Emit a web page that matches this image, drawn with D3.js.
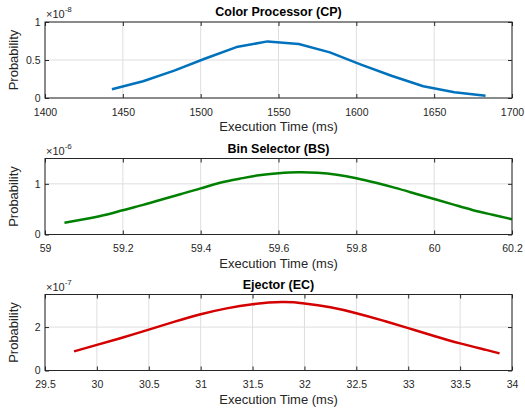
<!DOCTYPE html>
<html>
<head>
<meta charset="utf-8">
<script src="https://cdn.jsdelivr.net/npm/d3@7"></script>
<style>
body { margin: 0; background: #fff; }
text { font-family: "Liberation Sans", Arial, sans-serif; }
</style>
</head>
<body>
<div id="chart"></div>
<script>
// values
var cpTime = [1443, 1463, 1483, 1503, 1523, 1543, 1563, 1583, 1603, 1623, 1643, 1663, 1683];
var cpProb = [0.115, 0.22, 0.36, 0.52, 0.67, 0.745, 0.71, 0.60, 0.44, 0.29, 0.155, 0.075, 0.03];

var bsTime = [59.05, 59.1, 59.15, 59.2, 59.25, 59.3, 59.35, 59.4, 59.45, 59.5, 59.55, 59.6,
              59.65, 59.7, 59.75, 59.8, 59.85, 59.9, 59.95, 60.0, 60.05, 60.1, 60.15, 60.2];
var bsProb = [0.23, 0.30, 0.38, 0.48, 0.58, 0.69, 0.80, 0.91, 1.02, 1.10, 1.17, 1.21,
              1.23, 1.22, 1.18, 1.11, 1.02, 0.92, 0.81, 0.70, 0.59, 0.48, 0.39, 0.30];

var ecTime = [29.78, 30, 30.25, 30.5, 30.75, 31, 31.25, 31.5, 31.78, 32, 32.25, 32.5, 32.75, 33, 33.25, 33.5, 33.75, 33.88];
var ecProb = [0.88, 1.18, 1.52, 1.88, 2.25, 2.59, 2.86, 3.05, 3.15, 3.09, 2.91, 2.64, 2.31, 1.95, 1.59, 1.25, 0.95, 0.79];

var titles = ["Color Processor (CP)", "Bin Selector (BS)", "Ejector (EC)"];
var exponents = ["-8", "-6", "-7"];
var xDomains = [[1400, 1700], [59, 60.2], [29.5, 34]];
var yDomains = [[0, 1], [0, 1.5], [0, 3.5]];
var xTicks = [
  [1400, 1450, 1500, 1550, 1600, 1650, 1700],
  [59, 59.2, 59.4, 59.6, 59.8, 60, 60.2],
  [29.5, 30, 30.5, 31, 31.5, 32, 32.5, 33, 33.5, 34]
];
var yTicks = [[0, 0.5, 1], [0, 1], [0, 2]];
var colors = ["#0072bd", "#008000", "#d40000"];

var series = [
  {x: cpTime, y: cpProb, curve: d3.curveLinear},
  {x: bsTime, y: bsProb, curve: d3.curveNatural},
  {x: ecTime, y: ecProb, curve: d3.curveNatural}
];

var W = 525, H = 408;
var left = 45, right = 512, ph = 76;
var tops = [22, 158.5, 294.5];
var ink = "#262626";

var svg = d3.select("#chart").append("svg").attr("width", W).attr("height", H);

series.forEach(function(s, i) {
  var top = tops[i], bottom = top + ph;
  var x = d3.scaleLinear().domain(xDomains[i]).range([left, right]);
  var y = d3.scaleLinear().domain(yDomains[i]).range([bottom, top]);
  var g = svg.append("g");
  var fmt = d3.format("~g");

  // grid
  g.append("g").selectAll("line").data(xTicks[i]).enter().append("line")
    .attr("x1", function(d) { return x(d); }).attr("x2", function(d) { return x(d); })
    .attr("y1", top).attr("y2", bottom)
    .attr("stroke", "#dedede").attr("stroke-width", 1);
  g.append("g").selectAll("line").data(yTicks[i]).enter().append("line")
    .attr("x1", left).attr("x2", right)
    .attr("y1", function(d) { return y(d); }).attr("y2", function(d) { return y(d); })
    .attr("stroke", "#dedede").attr("stroke-width", 1);

  // curve
  var pts = s.x.map(function(t, k) { return [t, s.y[k]]; });
  g.append("path")
    .datum(pts)
    .attr("fill", "none")
    .attr("stroke", colors[i])
    .attr("stroke-width", 2.5)
    .attr("stroke-linejoin", "round")
    .attr("d", d3.line().curve(s.curve).x(function(d) { return x(d[0]); }).y(function(d) { return y(d[1]); }));

  // axes, ticks pointing inward
  var ax = g.append("g").attr("transform", "translate(0," + bottom + ")")
    .call(d3.axisBottom(x).tickValues(xTicks[i]).tickFormat(fmt).tickSizeInner(-4).tickSizeOuter(0).tickPadding(10.5));
  var ay = g.append("g").attr("transform", "translate(" + left + ",0)")
    .call(d3.axisLeft(y).tickValues(yTicks[i]).tickFormat(fmt).tickSizeInner(-4).tickSizeOuter(0).tickPadding(4.5));
  var axt = g.append("g").attr("transform", "translate(0," + top + ")")
    .call(d3.axisTop(x).tickValues(xTicks[i]).tickFormat("").tickSizeInner(-4).tickSizeOuter(0));
  var ayr = g.append("g").attr("transform", "translate(" + right + ",0)")
    .call(d3.axisRight(y).tickValues(yTicks[i]).tickFormat("").tickSizeInner(-4).tickSizeOuter(0));
  [ax, ay, axt, ayr].forEach(function(a) {
    a.style("color", ink).attr("font-family", null).attr("font-size", 10.5);
    a.select(".domain").remove();
  });

  // box
  g.append("rect")
    .attr("x", left).attr("y", top).attr("width", right - left).attr("height", ph)
    .attr("fill", "none").attr("stroke", ink).attr("stroke-width", 1);

  // title
  g.append("text")
    .attr("x", (left + right) / 2).attr("y", top - 6)
    .attr("text-anchor", "middle")
    .attr("font-size", 12.5).attr("font-weight", "bold").attr("fill", "#000")
    .text(titles[i]);

  // exponent
  var ex = g.append("text").attr("x", left + 1).attr("y", top - 4)
    .attr("font-size", 11).attr("fill", ink);
  ex.append("tspan").text("\u00d710");
  ex.append("tspan").attr("dy", -6).attr("font-size", 8).text(exponents[i]);

  // axis labels
  g.append("text")
    .attr("x", (left + right) / 2).attr("y", bottom + 33)
    .attr("text-anchor", "middle").attr("font-size", 13).attr("fill", ink)
    .text("Execution Time (ms)");
  g.append("text")
    .attr("transform", "translate(18," + (top + ph / 2) + ") rotate(-90)")
    .attr("text-anchor", "middle").attr("font-size", 13).attr("fill", ink)
    .text("Probability");
});
</script>
</body>
</html>
